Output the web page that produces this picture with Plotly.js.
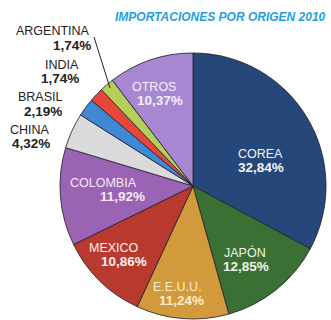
<!DOCTYPE html>
<html>
<head>
<meta charset="utf-8">
<script src="https://cdn.plot.ly/plotly-3.0.1.min.js"></script>
<style>html,body{margin:0;padding:0;background:#fff;overflow:hidden}#chart{width:331px;height:320px}</style>
</head>
<body>
<div id="chart"></div>
<script>
// ---- data ----
const labels = ['COREA', 'JAPÓN', 'E.E.U.U.', 'MEXICO', 'COLOMBIA', 'CHINA', 'BRASIL', 'INDIA', 'ARGENTINA', 'OTROS'];
const values = [32.84, 12.85, 11.24, 10.86, 11.92, 4.32, 2.19, 1.74, 1.74, 10.37];
const titleText = 'IMPORTACIONES POR ORIGEN 2010';

// ---- styles ----
const colors = ['#26477a', '#3b7034', '#d39a3c', '#b83a2e', '#9b63b3', '#dadadd', '#3e88d6', '#e6463b', '#b4d05a', '#a787d2'];
const W = 331, H = 320;
// label placement (pixel centers): [nameX, nameY, pctX, pctY, anchor, colour]
const labelPos = {
  'COREA':     [260, 154, 261, 167, 'center', '#f2f4fa'],
  'JAPÓN':     [245, 252, 246, 266, 'center', '#eef5e8'],
  'E.E.U.U.':  [177, 287, 181, 300, 'center', '#fbeccc'],
  'MEXICO':    [114, 248, 124, 261, 'center', '#fbeeee'],
  'COLOMBIA':  [103, 183, 122, 196, 'center', '#f5e8f8'],
  'OTROS':     [154, 87, 160, 100, 'center', '#f6eefb'],
  'ARGENTINA': [92, 31, 93, 45, 'right', '#222'],
  'INDIA':     [81, 65, 81, 78, 'right', '#222'],
  'BRASIL':    [65, 97, 64, 111, 'right', '#222'],
  'CHINA':     [52, 130, 52, 143, 'right', '#222']
};
const fmt = v => v.toFixed(2).replace('.', ',') + '%';
const px = x => x / W, py = y => 1 - y / H;

const annotations = [];
labels.forEach((lab, i) => {
  const p = labelPos[lab];
  const xa = p[4];
  annotations.push({xref: 'paper', yref: 'paper', x: px(p[0]), y: py(p[1]), xanchor: xa, yanchor: 'middle',
    text: lab, showarrow: false, font: {family: 'Liberation Sans, Arial, sans-serif', size: 12.5, color: p[5]}});
  annotations.push({xref: 'paper', yref: 'paper', x: px(p[2]), y: py(p[3]), xanchor: xa, yanchor: 'middle',
    text: '<b>' + fmt(values[i]) + '</b>', showarrow: false, font: {family: 'Liberation Sans, Arial, sans-serif', size: 13.5, color: p[5]}});
});
annotations.push({xref: 'paper', yref: 'paper', x: px(328), y: py(17), xanchor: 'right', yanchor: 'middle',
  text: '<b><i>' + titleText + '</i></b>', showarrow: false,
  font: {family: 'Liberation Sans Narrow, Arial Narrow, Liberation Sans, sans-serif', size: 12, color: '#1f9fdf'}});

const trace = {
  type: 'pie',
  labels: labels,
  values: values,
  sort: false,
  direction: 'clockwise',
  rotation: 0,
  textinfo: 'none',
  hoverinfo: 'label+percent',
  marker: {colors: colors, line: {color: 'rgba(35,35,45,0.85)', width: 1}},
  domain: {x: [60 / W, 326 / W], y: [py(319), py(53)]},
  showlegend: false
};

const layout = {
  width: W, height: H,
  margin: {l: 0, r: 0, t: 0, b: 0},
  paper_bgcolor: '#ffffff',
  annotations: annotations,
  shapes: [{type: 'line', xref: 'paper', yref: 'paper', x0: px(94), y0: py(37), x1: px(110), y1: py(88),
    line: {color: '#222', width: 1}}]
};

Plotly.newPlot('chart', [trace], layout, {displayModeBar: false, staticPlot: true});
</script>
</body>
</html>
